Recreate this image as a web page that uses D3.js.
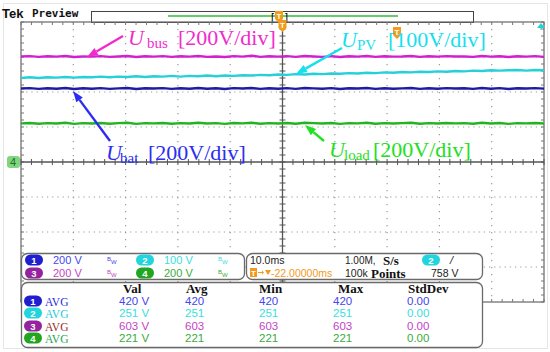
<!DOCTYPE html>
<html>
<head>
<meta charset="utf-8">
<script src="https://cdn.jsdelivr.net/npm/d3@7/dist/d3.min.js"></script>
<style>
  body { margin: 0; background: #fff; }
  svg { display: block; }
  .sans { font-family: "Liberation Sans", "DejaVu Sans", sans-serif; }
  .serif { font-family: "Liberation Serif", "DejaVu Serif", serif; }
</style>
</head>
<body>
<svg id="scope"></svg>
<script>
// ---- data ----
var timeDivs = 10, voltDivs = 8;
var timeSpanMs = 100; // 10.0 ms/div

// channel settings (volts per div)
var chNames = ["1", "2", "3", "4"];
var chScale = [200, 100, 200, 200];
var chScaleText = ["200 V", "100 V", "200 V", "200 V"];

// traces in volts, sampled evenly across the screen
var ubus = [603,605,601,604,602,606,600,603,602,605,601,603,606,600,604,602,605,601,604,602,606,601,603,600,605,602,607,601,604,602,605,601,606,603,601,605,600,604,602,606,601,604,602,603,606,601,604,602,605,603,603,601,606,602,604,600,604,602,605,601];
var upv = [240,242,240,242,241,243,241,243,242,244,242,244,243,245,243,245,244,246,244,246,245,247,245,247,246,248,247,249,248,250,249,251,250,252,251,253,252,254,253,255,254,256,255,257,256,258,257,259,258,260,259,261,260,262,261,262,263,261,263,262];
var ubat = [420,422,418,421,419,423,417,421,419,422,418,421,423,417,421,420,422,418,421,419,423,419,421,417,422,420,423,418,421,419,422,418,423,421,419,422,417,421,420,423,418,421,419,421,423,418,421,419,422,420,421,418,423,419,422,417,421,420,422,419];
var uload = [221,223,219,222,220,224,218,222,220,223,219,222,224,218,222,221,223,219,222,220,224,220,222,218,223,221,224,219,222,220,223,219,224,222,220,223,218,222,221,224,219,222,220,222,224,219,222,220,223,221,222,219,224,220,223,218,222,221,223,220];

// measurement table
var measHead = ["Val", "Avg", "Min", "Max", "StdDev"];
var measVal = ["420 V", "251 V", "603 V", "221 V"];
var measAvg = ["420", "251", "603", "221"];
var measMin = ["420", "251", "603", "221"];
var measMax = ["420", "251", "603", "221"];
var measStd = ["0.00", "0.00", "0.00", "0.00"];

// ---- layout ----
var screen = { width: 550, height: 352 };
var grat = { left: 21, right: 544, top: 22, bottom: 302 };

var svg = d3.select("#scope").attr("width", screen.width).attr("height", screen.height);

var xScale = d3.scaleLinear().domain([0, timeSpanMs]).range([grat.left, grat.right]);
var yDiv = d3.scaleLinear().domain([-voltDivs / 2, voltDivs / 2]).range([grat.bottom, grat.top]);
var xDiv = d3.scaleLinear().domain([0, timeDivs]).range([grat.left, grat.right]);

// light outer frame
svg.append("rect").attr("x", 3.5).attr("y", 3.5).attr("width", 544).attr("height", 345)
  .attr("fill", "none").attr("stroke", "#e6e6e6");

// ---- header ----
svg.append("text").text("Tek").classed("sans", true)
  .attr("x", 2).attr("y", 18).attr("font-size", 13).attr("font-weight", "bold").attr("fill", "#111");
svg.append("text").text("Preview").attr("font-family", "DejaVu Sans Mono, monospace")
  .attr("x", 32).attr("y", 17).attr("font-size", 11).attr("font-weight", "bold").attr("fill", "#111");
svg.append("rect").attr("x", 91.5).attr("y", 11.5).attr("width", 382).attr("height", 11)
  .attr("fill", "#fff").attr("stroke", "#444");
svg.append("line").attr("x1", 168).attr("x2", 398).attr("y1", 16).attr("y2", 16)
  .attr("stroke", "#6c6").attr("stroke-width", 2);
svg.append("text").text("[").classed("sans", true).attr("x", 271).attr("y", 21).attr("font-size", 11);
svg.append("text").text("]").classed("sans", true).attr("x", 285).attr("y", 21).attr("font-size", 11);

// ---- graticule ----
var gGrid = svg.append("g").classed("graticule", true);
d3.range(1, timeDivs).filter(function (d) { return d !== timeDivs / 2; }).forEach(function (d) {
  gGrid.append("line").attr("x1", xDiv(d)).attr("x2", xDiv(d))
    .attr("y1", grat.top).attr("y2", grat.bottom)
    .attr("stroke", "#9a9a9a").attr("stroke-width", 1.2).attr("stroke-dasharray", "1.2,5.8");
});
d3.range(-voltDivs / 2 + 1, voltDivs / 2).filter(function (d) { return d !== 0; }).forEach(function (d) {
  gGrid.append("line").attr("y1", yDiv(d)).attr("y2", yDiv(d))
    .attr("x1", grat.left).attr("x2", grat.right)
    .attr("stroke", "#9a9a9a").attr("stroke-width", 1.2).attr("stroke-dasharray", "1.2,4");
});

// minor tick positions
var xMinor = d3.range(0, timeDivs * 5 + 1).map(function (i) { return i / 5; });
var yMinor = d3.range(-voltDivs * 5 / 2, voltDivs * 5 / 2 + 1).map(function (i) { return i / 5; });

// frame
gGrid.append("rect").attr("x", grat.left).attr("y", grat.top)
  .attr("width", grat.right - grat.left).attr("height", grat.bottom - grat.top)
  .attr("fill", "none").attr("stroke", "#666").attr("stroke-width", 1.2);
xMinor.forEach(function (d) {
  gGrid.append("line").attr("x1", xDiv(d)).attr("x2", xDiv(d)).attr("y1", grat.top).attr("y2", grat.top + 3)
    .attr("stroke", "#777");
  gGrid.append("line").attr("x1", xDiv(d)).attr("x2", xDiv(d)).attr("y1", grat.bottom - 3).attr("y2", grat.bottom)
    .attr("stroke", "#777");
});
yMinor.forEach(function (d) {
  gGrid.append("line").attr("x1", grat.left).attr("x2", grat.left + 3).attr("y1", yDiv(d)).attr("y2", yDiv(d))
    .attr("stroke", "#777");
  gGrid.append("line").attr("x1", grat.right - 3).attr("x2", grat.right).attr("y1", yDiv(d)).attr("y2", yDiv(d))
    .attr("stroke", "#777");
});
// center cross
gGrid.append("line").attr("x1", xDiv(timeDivs / 2)).attr("x2", xDiv(timeDivs / 2))
  .attr("y1", grat.top).attr("y2", grat.bottom).attr("stroke", "#555").attr("stroke-width", 1.3);
gGrid.append("line").attr("y1", yDiv(0)).attr("y2", yDiv(0))
  .attr("x1", grat.left).attr("x2", grat.right).attr("stroke", "#555").attr("stroke-width", 1.3);
xMinor.forEach(function (d) {
  gGrid.append("line").attr("x1", xDiv(d)).attr("x2", xDiv(d)).attr("y1", yDiv(0) - 3).attr("y2", yDiv(0) + 3)
    .attr("stroke", "#555");
});
yMinor.forEach(function (d) {
  gGrid.append("line").attr("x1", xDiv(5) - 3).attr("x2", xDiv(5) + 3).attr("y1", yDiv(d)).attr("y2", yDiv(d))
    .attr("stroke", "#555");
});

// ---- traces ----
var traces = [
  { values: ubus, scale: chScale[2], color: "#d21fd2" },
  { values: upv, scale: chScale[1], color: "#25d0d8" },
  { values: ubat, scale: chScale[0], color: "#1c1ca4" },
  { values: uload, scale: chScale[3], color: "#20b420" }
];
traces.forEach(function (tr) {
  var step = timeSpanMs / (tr.values.length - 1);
  var line = d3.line()
    .x(function (v, i) { return xScale(i * step); })
    .y(function (v) { return yDiv(v / tr.scale); });
  svg.append("path").datum(tr.values).attr("d", line)
    .attr("fill", "none").attr("stroke", tr.color).attr("stroke-width", 2.4);
});

// ---- markers ----
svg.append("rect").attr("x", 7).attr("y", yDiv(0) - 6).attr("width", 13).attr("height", 12).attr("rx", 3)
  .attr("fill", "#7fd67f");
svg.append("text").text("4").classed("sans", true).attr("x", 13).attr("y", yDiv(0) + 4)
  .attr("text-anchor", "middle").attr("font-size", 11).attr("fill", "#2a6a2a");

var orangeT = function (cx, top) {
  var g = svg.append("g");
  g.append("path").attr("d", "M" + (cx - 4) + "," + top + "h8v8l-4,4l-4,-4z").attr("fill", "#f29a1a");
  g.append("text").text("T").classed("sans", true).attr("x", cx).attr("y", top + 8)
    .attr("text-anchor", "middle").attr("font-size", 8).attr("font-weight", "bold").attr("fill", "#fff");
};
orangeT(279, 11);
orangeT(xDiv(5), 20);
orangeT(397, 27);
svg.append("path").attr("d", "M537,28l4,-5l4,5z").attr("fill", "#25d0d8");
svg.append("line").attr("x1", 541).attr("x2", 541).attr("y1", 26).attr("y2", 30).attr("stroke", "#25d0d8");

// ---- annotations ----
var arrow = function (x1, y1, x2, y2, color) {
  var ang = Math.atan2(y2 - y1, x2 - x1);
  var len = 11, half = 4;
  var bx = x2 - len * Math.cos(ang), by = y2 - len * Math.sin(ang);
  svg.append("line").attr("x1", x1).attr("y1", y1).attr("x2", bx).attr("y2", by)
    .attr("stroke", color).attr("stroke-width", 2.4);
  svg.append("path")
    .attr("d", "M" + x2 + "," + y2 +
      "L" + (bx + half * Math.sin(ang)) + "," + (by - half * Math.cos(ang)) +
      "L" + (bx - half * Math.sin(ang)) + "," + (by + half * Math.cos(ang)) + "Z")
    .attr("fill", color);
};
var label = function (x, y, sub, subX, restX, rest, color) {
  var t = svg.append("text").classed("serif", true).attr("x", x).attr("y", y)
    .attr("font-size", 22).attr("fill", color);
  t.append("tspan").text("U").attr("font-style", "italic");
  t.append("tspan").text(sub).attr("x", subX).attr("font-size", 15).attr("dy", 3);
  t.append("tspan").text(rest).attr("x", restX).attr("dy", -3);
};
label(128, 45, "bus", 147, 178, "[200V/div]", "#f02ccc");
arrow(123, 36, 87, 57, "#f02ccc");
label(341, 47, "PV", 357, 388, "[100V/div]", "#14e0ee");
arrow(342, 48, 296, 74, "#14e0ee");
label(106, 160, "bat", 120, 148, "[200V/div]", "#2d2df2");
arrow(110, 141, 73, 91, "#2d2df2");
label(329, 157, "load", 344, 373, "[200V/div]", "#22e022");
arrow(324, 141, 305, 125, "#22e022");

// ---- readout panels ----
var badgeColors = ["#1f1fcf", "#22d4dc", "#96229e", "#22a622"];
var textColors = ["#4646ee", "#38dede", "#c443c4", "#3caa3c"];
var avgColors = ["#2a2ae0", "#22c8d8", "#9a2a2a", "#22a64a"];

var panel = function (x, y, w, h) {
  svg.append("rect").attr("x", x).attr("y", y).attr("width", w).attr("height", h).attr("rx", 6)
    .attr("fill", "#fff").attr("stroke", "#6a6a6a").attr("stroke-width", 1.3);
};
var badge = function (cx, cy, txt, color) {
  svg.append("rect").attr("x", cx - 9).attr("y", cy - 5.5).attr("width", 18).attr("height", 11).attr("rx", 5.5)
    .attr("fill", color);
  svg.append("text").text(txt).classed("sans", true).attr("x", cx).attr("y", cy + 3.5)
    .attr("text-anchor", "middle").attr("font-size", 9.5).attr("font-weight", "bold").attr("fill", "#fff");
};
var sText = function (x, y, txt, color, size) {
  return svg.append("text").text(txt).classed("sans", true).attr("x", x).attr("y", y)
    .attr("font-size", size || 11).attr("fill", color);
};
var bText = function (x, y, txt) {
  return svg.append("text").text(txt).classed("serif", true).attr("x", x).attr("y", y)
    .attr("font-size", 13).attr("font-weight", "bold").attr("fill", "#111");
};

// channel box
panel(21.5, 253.5, 223, 26);
var chPos = [[34, 260], [145, 260], [34, 273], [145, 273]];
chNames.forEach(function (c, i) {
  var p = chPos[i];
  badge(p[0], p[1], c, badgeColors[i]);
  sText(p[0] + 19, p[1] + 4, chScaleText[i], textColors[i], 11);
  sText(p[0] + 73, p[1] + 1, "B", textColors[i], 6);
  sText(p[0] + 77, p[1] + 4, "W", textColors[i], 6);
});

// timebase box
panel(246.5, 253.5, 236, 26);
sText(250, 264, "10.0ms", "#222", 10.5);
sText(345, 264, "1.00M,", "#222", 10);
bText(383, 265, "S/s");
badge(431, 260, "2", "#22d4dc");
sText(450, 264, "/", "#222", 11).attr("font-style", "italic");
svg.append("rect").attr("x", 250).attr("y", 268).attr("width", 7).attr("height", 9).attr("fill", "#f29a1a");
sText(251, 276, "T", "#fff", 8).attr("font-weight", "bold");
svg.append("line").attr("x1", 258).attr("x2", 263).attr("y1", 272.5).attr("y2", 272.5).attr("stroke", "#f29a1a");
svg.append("path").attr("d", "M262,270.5l2,2l-2,2z").attr("fill", "#f29a1a");
svg.append("path").attr("d", "M265,270h6l-3,5z").attr("fill", "#f29a1a");
sText(271, 277, "-22.00000ms", "#f29a1a", 10.5);
sText(345, 277, "100k", "#222", 10.5);
bText(371, 278, "Points");
sText(431, 277, "758 V", "#222", 10.5);

// measurement table
panel(21.5, 282.5, 461, 65);
var colX = [119, 185, 259, 333, 407];
var headX = [123, 186, 259, 338, 408];
measHead.forEach(function (h, i) { bText(headX[i], 293, h); });
var rowY = [305, 317, 330, 342];
chNames.forEach(function (c, i) {
  badge(33, rowY[i] - 4, c, badgeColors[i]);
  svg.append("text").text("AVG").classed("serif", true).attr("x", 45).attr("y", rowY[i] + 1)
    .attr("font-size", 11.5).attr("fill", avgColors[i]);
  [measVal, measAvg, measMin, measMax, measStd].forEach(function (col, j) {
    sText(colX[j], rowY[i], col[i], textColors[i], 11.5);
  });
});
</script>
</body>
</html>
